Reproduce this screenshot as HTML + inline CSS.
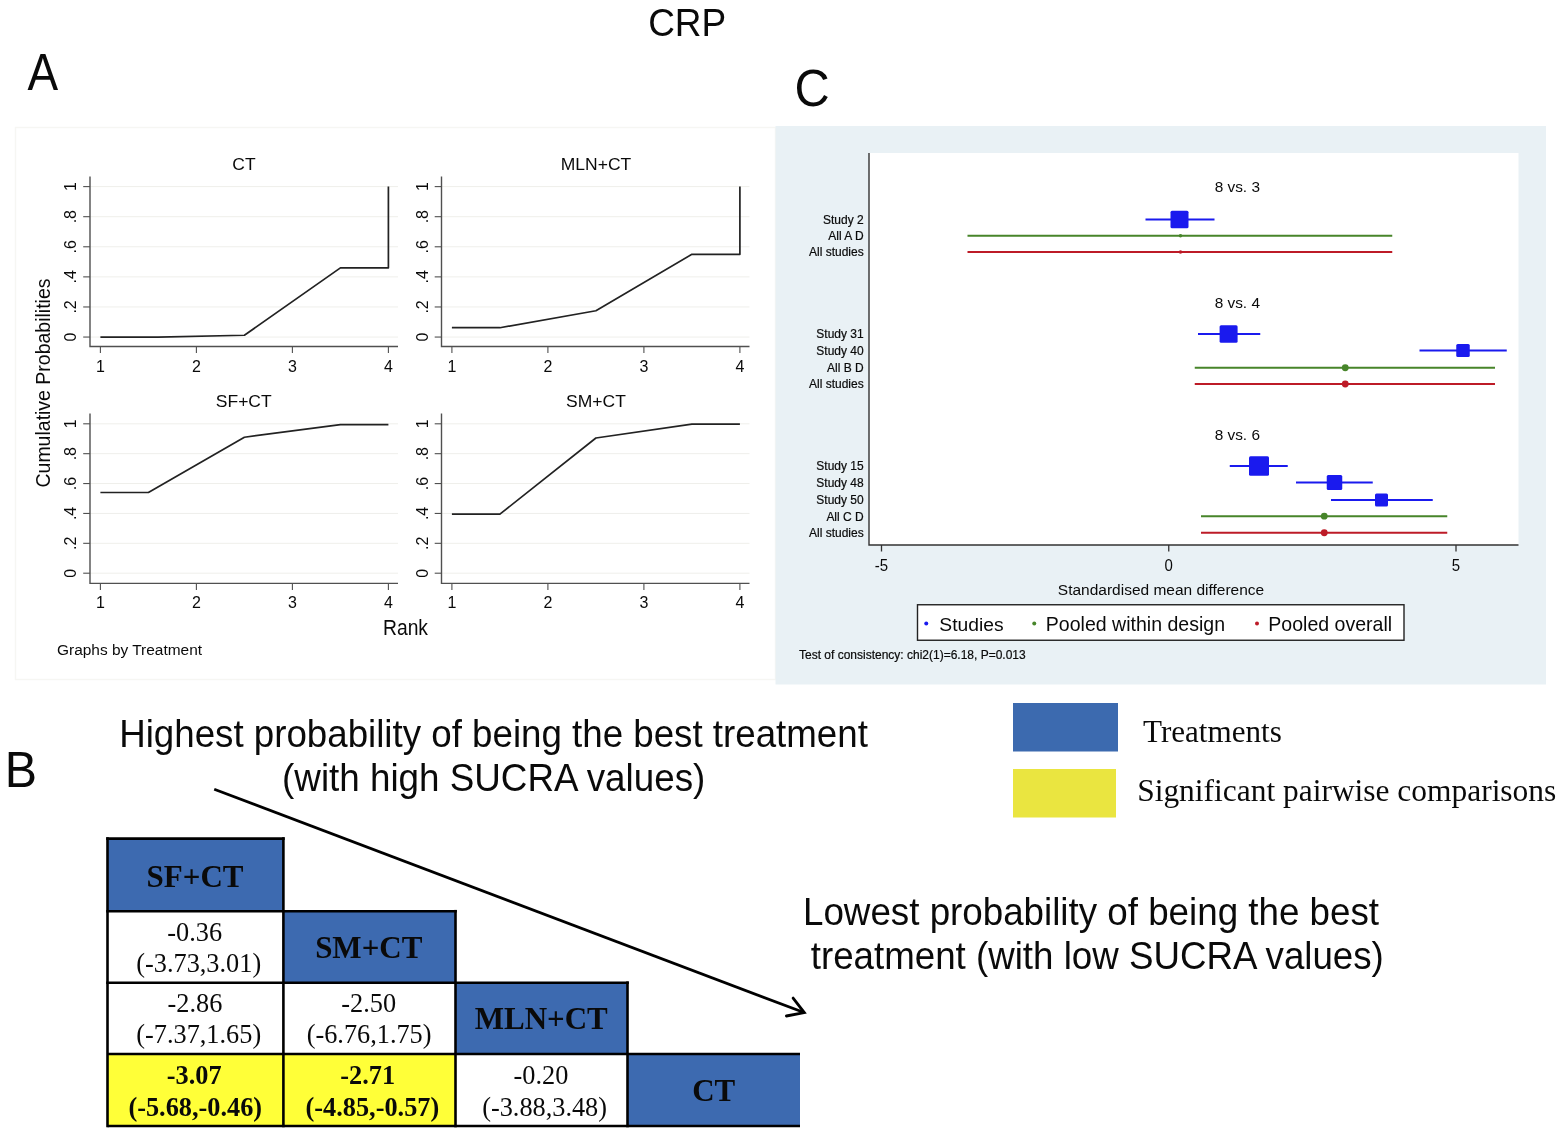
<!DOCTYPE html>
<html lang="en"><head><meta charset="utf-8"><title>CRP</title>
<style>html,body{margin:0;padding:0;background:#fff}body{width:1564px;height:1136px;overflow:hidden}svg{display:block}text{font-family:"Liberation Sans", Arial, Helvetica, sans-serif;fill:#0a0a0a}.serif{font-family:"Liberation Serif", "Times New Roman", Times, serif}</style>
</head><body>
<svg width="1564" height="1136" viewBox="0 0 1564 1136">
<rect x="0" y="0" width="1564" height="1136" fill="#ffffff"/>
<text transform="translate(648.15 35.70) scale(1.000 1.057)" font-size="37">CRP</text>
<text transform="translate(27.50 89.60) scale(1.000 1.114)" font-size="46">A</text>
<text transform="translate(794.60 105.60) scale(1.000 1.052)" font-size="48.7">C</text>
<text transform="translate(4.80 786.50) scale(1.030 1.080)" font-size="47">B</text>
<rect x="15.5" y="127.5" width="760" height="552" fill="#ffffff" stroke="#f6f6f3" stroke-width="1.4"/>
<line x1="90.00" y1="337.05" x2="398.00" y2="337.05" stroke="#efefeb" stroke-width="1"/>
<line x1="90.00" y1="306.96" x2="398.00" y2="306.96" stroke="#efefeb" stroke-width="1"/>
<line x1="90.00" y1="276.87" x2="398.00" y2="276.87" stroke="#efefeb" stroke-width="1"/>
<line x1="90.00" y1="246.78" x2="398.00" y2="246.78" stroke="#efefeb" stroke-width="1"/>
<line x1="90.00" y1="216.69" x2="398.00" y2="216.69" stroke="#efefeb" stroke-width="1"/>
<line x1="90.00" y1="186.60" x2="398.00" y2="186.60" stroke="#efefeb" stroke-width="1"/>
<path d="M90.00 176.60 V346.50 H398.00" fill="none" stroke="#505050" stroke-width="1.4"/>
<line x1="100.40" y1="346.50" x2="100.40" y2="353.00" stroke="#505050" stroke-width="1.1"/>
<text transform="translate(100.40 371.70) scale(1 1.040)" font-size="16" text-anchor="middle">1</text>
<line x1="196.40" y1="346.50" x2="196.40" y2="353.00" stroke="#505050" stroke-width="1.1"/>
<text transform="translate(196.40 371.70) scale(1 1.040)" font-size="16" text-anchor="middle">2</text>
<line x1="292.40" y1="346.50" x2="292.40" y2="353.00" stroke="#505050" stroke-width="1.1"/>
<text transform="translate(292.40 371.70) scale(1 1.040)" font-size="16" text-anchor="middle">3</text>
<line x1="388.40" y1="346.50" x2="388.40" y2="353.00" stroke="#505050" stroke-width="1.1"/>
<text transform="translate(388.40 371.70) scale(1 1.040)" font-size="16" text-anchor="middle">4</text>
<line x1="83.20" y1="337.05" x2="90.00" y2="337.05" stroke="#505050" stroke-width="1.1"/>
<text transform="translate(76.10 337.05) rotate(-90) scale(1 1.040)" font-size="16" text-anchor="middle">0</text>
<line x1="83.20" y1="306.96" x2="90.00" y2="306.96" stroke="#505050" stroke-width="1.1"/>
<text transform="translate(76.10 306.96) rotate(-90) scale(1 1.040)" font-size="16" text-anchor="middle">.2</text>
<line x1="83.20" y1="276.87" x2="90.00" y2="276.87" stroke="#505050" stroke-width="1.1"/>
<text transform="translate(76.10 276.87) rotate(-90) scale(1 1.040)" font-size="16" text-anchor="middle">.4</text>
<line x1="83.20" y1="246.78" x2="90.00" y2="246.78" stroke="#505050" stroke-width="1.1"/>
<text transform="translate(76.10 246.78) rotate(-90) scale(1 1.040)" font-size="16" text-anchor="middle">.6</text>
<line x1="83.20" y1="216.69" x2="90.00" y2="216.69" stroke="#505050" stroke-width="1.1"/>
<text transform="translate(76.10 216.69) rotate(-90) scale(1 1.040)" font-size="16" text-anchor="middle">.8</text>
<line x1="83.20" y1="186.60" x2="90.00" y2="186.60" stroke="#505050" stroke-width="1.1"/>
<text transform="translate(76.10 186.60) rotate(-90) scale(1 1.040)" font-size="16" text-anchor="middle">1</text>
<text transform="translate(244.00 170.30) scale(1 0.980)" font-size="17.5" text-anchor="middle">CT</text>
<path d="M100.40 337.05 L158.00 337.05 L244.40 335.24 L340.40 267.84 L388.40 267.84 L388.40 186.60" fill="none" stroke="#222" stroke-width="1.7" stroke-linejoin="round"/>
<line x1="441.50" y1="337.05" x2="749.50" y2="337.05" stroke="#efefeb" stroke-width="1"/>
<line x1="441.50" y1="306.96" x2="749.50" y2="306.96" stroke="#efefeb" stroke-width="1"/>
<line x1="441.50" y1="276.87" x2="749.50" y2="276.87" stroke="#efefeb" stroke-width="1"/>
<line x1="441.50" y1="246.78" x2="749.50" y2="246.78" stroke="#efefeb" stroke-width="1"/>
<line x1="441.50" y1="216.69" x2="749.50" y2="216.69" stroke="#efefeb" stroke-width="1"/>
<line x1="441.50" y1="186.60" x2="749.50" y2="186.60" stroke="#efefeb" stroke-width="1"/>
<path d="M441.50 176.60 V346.50 H749.50" fill="none" stroke="#505050" stroke-width="1.4"/>
<line x1="451.90" y1="346.50" x2="451.90" y2="353.00" stroke="#505050" stroke-width="1.1"/>
<text transform="translate(451.90 371.70) scale(1 1.040)" font-size="16" text-anchor="middle">1</text>
<line x1="547.90" y1="346.50" x2="547.90" y2="353.00" stroke="#505050" stroke-width="1.1"/>
<text transform="translate(547.90 371.70) scale(1 1.040)" font-size="16" text-anchor="middle">2</text>
<line x1="643.90" y1="346.50" x2="643.90" y2="353.00" stroke="#505050" stroke-width="1.1"/>
<text transform="translate(643.90 371.70) scale(1 1.040)" font-size="16" text-anchor="middle">3</text>
<line x1="739.90" y1="346.50" x2="739.90" y2="353.00" stroke="#505050" stroke-width="1.1"/>
<text transform="translate(739.90 371.70) scale(1 1.040)" font-size="16" text-anchor="middle">4</text>
<line x1="434.70" y1="337.05" x2="441.50" y2="337.05" stroke="#505050" stroke-width="1.1"/>
<text transform="translate(427.60 337.05) rotate(-90) scale(1 1.040)" font-size="16" text-anchor="middle">0</text>
<line x1="434.70" y1="306.96" x2="441.50" y2="306.96" stroke="#505050" stroke-width="1.1"/>
<text transform="translate(427.60 306.96) rotate(-90) scale(1 1.040)" font-size="16" text-anchor="middle">.2</text>
<line x1="434.70" y1="276.87" x2="441.50" y2="276.87" stroke="#505050" stroke-width="1.1"/>
<text transform="translate(427.60 276.87) rotate(-90) scale(1 1.040)" font-size="16" text-anchor="middle">.4</text>
<line x1="434.70" y1="246.78" x2="441.50" y2="246.78" stroke="#505050" stroke-width="1.1"/>
<text transform="translate(427.60 246.78) rotate(-90) scale(1 1.040)" font-size="16" text-anchor="middle">.6</text>
<line x1="434.70" y1="216.69" x2="441.50" y2="216.69" stroke="#505050" stroke-width="1.1"/>
<text transform="translate(427.60 216.69) rotate(-90) scale(1 1.040)" font-size="16" text-anchor="middle">.8</text>
<line x1="434.70" y1="186.60" x2="441.50" y2="186.60" stroke="#505050" stroke-width="1.1"/>
<text transform="translate(427.60 186.60) rotate(-90) scale(1 1.040)" font-size="16" text-anchor="middle">1</text>
<text transform="translate(596.00 170.30) scale(1 0.980)" font-size="17.5" text-anchor="middle">MLN+CT</text>
<path d="M451.90 327.72 L499.90 327.72 L595.90 310.72 L691.90 254.30 L739.90 254.30 L739.90 186.60" fill="none" stroke="#222" stroke-width="1.7" stroke-linejoin="round"/>
<line x1="90.00" y1="573.20" x2="398.00" y2="573.20" stroke="#efefeb" stroke-width="1"/>
<line x1="90.00" y1="543.32" x2="398.00" y2="543.32" stroke="#efefeb" stroke-width="1"/>
<line x1="90.00" y1="513.44" x2="398.00" y2="513.44" stroke="#efefeb" stroke-width="1"/>
<line x1="90.00" y1="483.56" x2="398.00" y2="483.56" stroke="#efefeb" stroke-width="1"/>
<line x1="90.00" y1="453.68" x2="398.00" y2="453.68" stroke="#efefeb" stroke-width="1"/>
<line x1="90.00" y1="423.80" x2="398.00" y2="423.80" stroke="#efefeb" stroke-width="1"/>
<path d="M90.00 413.50 V583.40 H398.00" fill="none" stroke="#505050" stroke-width="1.4"/>
<line x1="100.40" y1="583.40" x2="100.40" y2="589.90" stroke="#505050" stroke-width="1.1"/>
<text transform="translate(100.40 608.00) scale(1 1.040)" font-size="16" text-anchor="middle">1</text>
<line x1="196.40" y1="583.40" x2="196.40" y2="589.90" stroke="#505050" stroke-width="1.1"/>
<text transform="translate(196.40 608.00) scale(1 1.040)" font-size="16" text-anchor="middle">2</text>
<line x1="292.40" y1="583.40" x2="292.40" y2="589.90" stroke="#505050" stroke-width="1.1"/>
<text transform="translate(292.40 608.00) scale(1 1.040)" font-size="16" text-anchor="middle">3</text>
<line x1="388.40" y1="583.40" x2="388.40" y2="589.90" stroke="#505050" stroke-width="1.1"/>
<text transform="translate(388.40 608.00) scale(1 1.040)" font-size="16" text-anchor="middle">4</text>
<line x1="83.20" y1="573.20" x2="90.00" y2="573.20" stroke="#505050" stroke-width="1.1"/>
<text transform="translate(76.10 573.20) rotate(-90) scale(1 1.040)" font-size="16" text-anchor="middle">0</text>
<line x1="83.20" y1="543.32" x2="90.00" y2="543.32" stroke="#505050" stroke-width="1.1"/>
<text transform="translate(76.10 543.32) rotate(-90) scale(1 1.040)" font-size="16" text-anchor="middle">.2</text>
<line x1="83.20" y1="513.44" x2="90.00" y2="513.44" stroke="#505050" stroke-width="1.1"/>
<text transform="translate(76.10 513.44) rotate(-90) scale(1 1.040)" font-size="16" text-anchor="middle">.4</text>
<line x1="83.20" y1="483.56" x2="90.00" y2="483.56" stroke="#505050" stroke-width="1.1"/>
<text transform="translate(76.10 483.56) rotate(-90) scale(1 1.040)" font-size="16" text-anchor="middle">.6</text>
<line x1="83.20" y1="453.68" x2="90.00" y2="453.68" stroke="#505050" stroke-width="1.1"/>
<text transform="translate(76.10 453.68) rotate(-90) scale(1 1.040)" font-size="16" text-anchor="middle">.8</text>
<line x1="83.20" y1="423.80" x2="90.00" y2="423.80" stroke="#505050" stroke-width="1.1"/>
<text transform="translate(76.10 423.80) rotate(-90) scale(1 1.040)" font-size="16" text-anchor="middle">1</text>
<text transform="translate(243.75 406.60) scale(1 0.980)" font-size="17.5" text-anchor="middle">SF+CT</text>
<path d="M100.40 492.52 L148.40 492.52 L244.40 437.25 L340.40 424.55 L388.40 424.55" fill="none" stroke="#222" stroke-width="1.7" stroke-linejoin="round"/>
<line x1="441.50" y1="573.20" x2="749.50" y2="573.20" stroke="#efefeb" stroke-width="1"/>
<line x1="441.50" y1="543.32" x2="749.50" y2="543.32" stroke="#efefeb" stroke-width="1"/>
<line x1="441.50" y1="513.44" x2="749.50" y2="513.44" stroke="#efefeb" stroke-width="1"/>
<line x1="441.50" y1="483.56" x2="749.50" y2="483.56" stroke="#efefeb" stroke-width="1"/>
<line x1="441.50" y1="453.68" x2="749.50" y2="453.68" stroke="#efefeb" stroke-width="1"/>
<line x1="441.50" y1="423.80" x2="749.50" y2="423.80" stroke="#efefeb" stroke-width="1"/>
<path d="M441.50 413.50 V583.40 H749.50" fill="none" stroke="#505050" stroke-width="1.4"/>
<line x1="451.90" y1="583.40" x2="451.90" y2="589.90" stroke="#505050" stroke-width="1.1"/>
<text transform="translate(451.90 608.00) scale(1 1.040)" font-size="16" text-anchor="middle">1</text>
<line x1="547.90" y1="583.40" x2="547.90" y2="589.90" stroke="#505050" stroke-width="1.1"/>
<text transform="translate(547.90 608.00) scale(1 1.040)" font-size="16" text-anchor="middle">2</text>
<line x1="643.90" y1="583.40" x2="643.90" y2="589.90" stroke="#505050" stroke-width="1.1"/>
<text transform="translate(643.90 608.00) scale(1 1.040)" font-size="16" text-anchor="middle">3</text>
<line x1="739.90" y1="583.40" x2="739.90" y2="589.90" stroke="#505050" stroke-width="1.1"/>
<text transform="translate(739.90 608.00) scale(1 1.040)" font-size="16" text-anchor="middle">4</text>
<line x1="434.70" y1="573.20" x2="441.50" y2="573.20" stroke="#505050" stroke-width="1.1"/>
<text transform="translate(427.60 573.20) rotate(-90) scale(1 1.040)" font-size="16" text-anchor="middle">0</text>
<line x1="434.70" y1="543.32" x2="441.50" y2="543.32" stroke="#505050" stroke-width="1.1"/>
<text transform="translate(427.60 543.32) rotate(-90) scale(1 1.040)" font-size="16" text-anchor="middle">.2</text>
<line x1="434.70" y1="513.44" x2="441.50" y2="513.44" stroke="#505050" stroke-width="1.1"/>
<text transform="translate(427.60 513.44) rotate(-90) scale(1 1.040)" font-size="16" text-anchor="middle">.4</text>
<line x1="434.70" y1="483.56" x2="441.50" y2="483.56" stroke="#505050" stroke-width="1.1"/>
<text transform="translate(427.60 483.56) rotate(-90) scale(1 1.040)" font-size="16" text-anchor="middle">.6</text>
<line x1="434.70" y1="453.68" x2="441.50" y2="453.68" stroke="#505050" stroke-width="1.1"/>
<text transform="translate(427.60 453.68) rotate(-90) scale(1 1.040)" font-size="16" text-anchor="middle">.8</text>
<line x1="434.70" y1="423.80" x2="441.50" y2="423.80" stroke="#505050" stroke-width="1.1"/>
<text transform="translate(427.60 423.80) rotate(-90) scale(1 1.040)" font-size="16" text-anchor="middle">1</text>
<text transform="translate(596.00 406.60) scale(1 0.980)" font-size="17.5" text-anchor="middle">SM+CT</text>
<path d="M451.90 514.19 L499.90 514.19 L595.90 437.99 L691.90 424.10 L739.90 424.10" fill="none" stroke="#222" stroke-width="1.7" stroke-linejoin="round"/>
<text transform="translate(50.00 383.00) rotate(-90) scale(1 1.080)" font-size="19.5" text-anchor="middle">Cumulative Probabilities</text>
<text transform="translate(405.50 635.30) scale(1 1.100)" font-size="19.3" text-anchor="middle">Rank</text>
<text transform="translate(57.00 654.70) scale(1 1.000)" font-size="15.45">Graphs by Treatment</text>
<rect x="775.5" y="126" width="770.5" height="558.5" fill="#e9f1f5"/>
<rect x="869" y="153" width="649.5" height="392" fill="#ffffff"/>
<path d="M869 153 V545 H1518.5" fill="none" stroke="#333" stroke-width="1.4"/>
<line x1="881.50" y1="545" x2="881.50" y2="551.5" stroke="#333" stroke-width="1.3"/>
<text transform="translate(881.50 571.20) scale(1 1.040)" font-size="15" text-anchor="middle">-5</text>
<line x1="1168.75" y1="545" x2="1168.75" y2="551.5" stroke="#333" stroke-width="1.3"/>
<text transform="translate(1168.75 571.20) scale(1 1.040)" font-size="15" text-anchor="middle">0</text>
<line x1="1456.00" y1="545" x2="1456.00" y2="551.5" stroke="#333" stroke-width="1.3"/>
<text transform="translate(1456.00 571.20) scale(1 1.040)" font-size="15" text-anchor="middle">5</text>
<text transform="translate(1161.00 594.90) scale(1 0.980)" font-size="15.5" text-anchor="middle">Standardised mean difference</text>
<text transform="translate(1237.30 192.30) scale(1 0.990)" font-size="15.4" text-anchor="middle">8 vs. 3</text>
<text transform="translate(863.70 223.80) scale(1 1.040)" font-size="12" text-anchor="end" stroke="#0a0a0a" stroke-width="0.2">Study 2</text>
<line x1="1145.50" y1="219.50" x2="1214.50" y2="219.50" stroke="#1a1aee" stroke-width="2"/>
<rect x="1170.50" y="210.75" width="18.00" height="17.50" rx="1.5" fill="#1a1aee"/>
<text transform="translate(863.70 240.05) scale(1 1.040)" font-size="12" text-anchor="end" stroke="#0a0a0a" stroke-width="0.2">All A D</text>
<line x1="967.50" y1="235.75" x2="1392.25" y2="235.75" stroke="#47852a" stroke-width="2"/>
<circle cx="1180.50" cy="235.75" r="1.80" fill="#47852a"/>
<text transform="translate(863.70 256.30) scale(1 1.040)" font-size="12" text-anchor="end" stroke="#0a0a0a" stroke-width="0.2">All studies</text>
<line x1="967.50" y1="252.00" x2="1392.25" y2="252.00" stroke="#bd1b27" stroke-width="2"/>
<circle cx="1180.50" cy="252.00" r="1.80" fill="#bd1b27"/>
<text transform="translate(1237.30 307.80) scale(1 0.990)" font-size="15.4" text-anchor="middle">8 vs. 4</text>
<text transform="translate(863.70 338.30) scale(1 1.040)" font-size="12" text-anchor="end" stroke="#0a0a0a" stroke-width="0.2">Study 31</text>
<line x1="1198.00" y1="334.00" x2="1260.25" y2="334.00" stroke="#1a1aee" stroke-width="2"/>
<rect x="1219.60" y="325.25" width="18.00" height="17.50" rx="1.5" fill="#1a1aee"/>
<text transform="translate(863.70 354.70) scale(1 1.040)" font-size="12" text-anchor="end" stroke="#0a0a0a" stroke-width="0.2">Study 40</text>
<line x1="1419.50" y1="350.40" x2="1506.75" y2="350.40" stroke="#1a1aee" stroke-width="2"/>
<rect x="1456.25" y="343.90" width="13.50" height="13.00" rx="1.5" fill="#1a1aee"/>
<text transform="translate(863.70 372.05) scale(1 1.040)" font-size="12" text-anchor="end" stroke="#0a0a0a" stroke-width="0.2">All B D</text>
<line x1="1194.75" y1="367.75" x2="1495.00" y2="367.75" stroke="#47852a" stroke-width="2"/>
<circle cx="1345.25" cy="367.75" r="3.40" fill="#47852a"/>
<text transform="translate(863.70 388.30) scale(1 1.040)" font-size="12" text-anchor="end" stroke="#0a0a0a" stroke-width="0.2">All studies</text>
<line x1="1194.75" y1="384.00" x2="1495.00" y2="384.00" stroke="#bd1b27" stroke-width="2"/>
<circle cx="1345.25" cy="384.00" r="3.40" fill="#bd1b27"/>
<text transform="translate(1237.30 440.05) scale(1 0.990)" font-size="15.4" text-anchor="middle">8 vs. 6</text>
<text transform="translate(863.70 470.30) scale(1 1.040)" font-size="12" text-anchor="end" stroke="#0a0a0a" stroke-width="0.2">Study 15</text>
<line x1="1229.75" y1="466.00" x2="1287.75" y2="466.00" stroke="#1a1aee" stroke-width="2"/>
<rect x="1249.00" y="456.25" width="20.00" height="19.50" rx="1.5" fill="#1a1aee"/>
<text transform="translate(863.70 486.80) scale(1 1.040)" font-size="12" text-anchor="end" stroke="#0a0a0a" stroke-width="0.2">Study 48</text>
<line x1="1296.00" y1="482.50" x2="1372.75" y2="482.50" stroke="#1a1aee" stroke-width="2"/>
<rect x="1326.75" y="475.00" width="15.50" height="15.00" rx="1.5" fill="#1a1aee"/>
<text transform="translate(863.70 504.30) scale(1 1.040)" font-size="12" text-anchor="end" stroke="#0a0a0a" stroke-width="0.2">Study 50</text>
<line x1="1331.00" y1="500.00" x2="1432.75" y2="500.00" stroke="#1a1aee" stroke-width="2"/>
<rect x="1375.00" y="493.50" width="13.00" height="13.00" rx="1.5" fill="#1a1aee"/>
<text transform="translate(863.70 520.50) scale(1 1.040)" font-size="12" text-anchor="end" stroke="#0a0a0a" stroke-width="0.2">All C D</text>
<line x1="1201.00" y1="516.20" x2="1447.25" y2="516.20" stroke="#47852a" stroke-width="2"/>
<circle cx="1324.25" cy="516.20" r="3.40" fill="#47852a"/>
<text transform="translate(863.70 537.05) scale(1 1.040)" font-size="12" text-anchor="end" stroke="#0a0a0a" stroke-width="0.2">All studies</text>
<line x1="1201.00" y1="532.75" x2="1447.25" y2="532.75" stroke="#bd1b27" stroke-width="2"/>
<circle cx="1324.25" cy="532.75" r="3.40" fill="#bd1b27"/>
<rect x="917.5" y="604.75" width="486.5" height="35.5" fill="#ffffff" stroke="#222" stroke-width="1.4"/>
<circle cx="926.25" cy="623.5" r="2" fill="#1a1aee"/>
<text transform="translate(939.30 630.50) scale(1 0.990)" font-size="19.3">Studies</text>
<circle cx="1034.25" cy="623.5" r="2" fill="#47852a"/>
<text transform="translate(1045.80 630.50) scale(1 0.990)" font-size="19.55">Pooled within design</text>
<circle cx="1257" cy="623.5" r="2" fill="#bd1b27"/>
<text transform="translate(1268.30 630.50) scale(1 0.990)" font-size="19.55">Pooled overall</text>
<text transform="translate(799.00 658.90) scale(1 1.040)" font-size="12" stroke="#0a0a0a" stroke-width="0.2">Test of consistency: chi2(1)=6.18, P=0.013</text>
<rect x="1013" y="703" width="105" height="48.5" fill="#3c6aaf"/>
<rect x="1013" y="769" width="103" height="48.5" fill="#eae540"/>
<text class="serif" x="1143" y="741.5" font-size="31.1">Treatments</text>
<text class="serif" x="1137.2" y="801" font-size="31.45">Significant pairwise comparisons</text>
<text transform="translate(493.50 746.80) scale(1 1.040)" font-size="36.7" text-anchor="middle">Highest probability of being the best treatment</text>
<text transform="translate(493.70 791.00) scale(1 1.040)" font-size="36.8" text-anchor="middle">(with high SUCRA values)</text>
<text transform="translate(1091.00 924.50) scale(1 1.040)" font-size="36.75" text-anchor="middle">Lowest probability of being the best</text>
<text transform="translate(1097.30 968.50) scale(1 1.040)" font-size="36.7" text-anchor="middle">treatment (with low SUCRA values)</text>
<path d="M214.25 789.25 L804 1012.55" fill="none" stroke="#000" stroke-width="2.8"/>
<path d="M793.1 998.1 L804.3 1012.6 L786.4 1016" fill="none" stroke="#000" stroke-width="2.8" stroke-linejoin="miter" stroke-linecap="round"/>
<rect x="107.50" y="838.60" width="175.90" height="72.60" fill="#3d6ab0"/>
<rect x="283.40" y="911.20" width="172.10" height="71.50" fill="#3d6ab0"/>
<rect x="455.50" y="982.70" width="172.00" height="71.30" fill="#3d6ab0"/>
<rect x="627.50" y="1054.00" width="172.50" height="72.00" fill="#3d6ab0"/>
<rect x="107.50" y="911.20" width="175.90" height="71.50" fill="#fff"/>
<rect x="107.50" y="982.70" width="175.90" height="71.30" fill="#fff"/>
<rect x="283.40" y="982.70" width="172.10" height="71.30" fill="#fff"/>
<rect x="455.50" y="1054.00" width="172.00" height="72.00" fill="#fff"/>
<rect x="107.50" y="1054.00" width="175.90" height="72.00" fill="#ffff38"/>
<rect x="283.40" y="1054.00" width="172.10" height="72.00" fill="#ffff38"/>
<path d="M107.50 838.60 V1126.00" stroke="#000" stroke-width="2.6" fill="none" stroke-linecap="square"/>
<path d="M283.40 838.60 V1126.00" stroke="#000" stroke-width="2.6" fill="none" stroke-linecap="square"/>
<path d="M455.50 911.20 V1126.00" stroke="#000" stroke-width="2.6" fill="none" stroke-linecap="square"/>
<path d="M627.50 982.70 V1126.00" stroke="#000" stroke-width="2.6" fill="none" stroke-linecap="square"/>
<path d="M107.50 838.60 H283.40" stroke="#000" stroke-width="2.6" fill="none" stroke-linecap="square"/>
<path d="M107.50 911.20 H455.50" stroke="#000" stroke-width="2.6" fill="none" stroke-linecap="square"/>
<path d="M107.50 982.70 H627.50" stroke="#000" stroke-width="2.6" fill="none" stroke-linecap="square"/>
<path d="M107.50 1054.00 H800.00" stroke="#000" stroke-width="2.6" fill="none"/>
<path d="M107.50 1126.00 H800.00" stroke="#000" stroke-width="2.6" fill="none"/>
<text class="serif" x="195.00" y="886.80" font-size="31" font-weight="bold" text-anchor="middle">SF+CT</text>
<text class="serif" x="368.75" y="958.05" font-size="31" font-weight="bold" text-anchor="middle">SM+CT</text>
<text class="serif" x="541.25" y="1029.30" font-size="31" font-weight="bold" text-anchor="middle">MLN+CT</text>
<text class="serif" x="713.75" y="1101.05" font-size="31" font-weight="bold" text-anchor="middle">CT</text>
<text class="serif" x="194.70" y="940.50" font-size="26.3" text-anchor="middle">-0.36</text>
<text class="serif" x="198.70" y="971.70" font-size="26.3" text-anchor="middle">(-3.73,3.01)</text>
<text class="serif" x="195.00" y="1011.50" font-size="26.3" text-anchor="middle">-2.86</text>
<text class="serif" x="198.70" y="1042.80" font-size="26.3" text-anchor="middle">(-7.37,1.65)</text>
<text class="serif" x="368.75" y="1011.50" font-size="26.3" text-anchor="middle">-2.50</text>
<text class="serif" x="369.10" y="1042.80" font-size="26.3" text-anchor="middle">(-6.76,1.75)</text>
<text class="serif" x="194.25" y="1083.90" font-size="26.3" font-weight="bold" text-anchor="middle">-3.07</text>
<text class="serif" x="195.25" y="1116.00" font-size="26.3" font-weight="bold" text-anchor="middle">(-5.68,-0.46)</text>
<text class="serif" x="367.75" y="1083.90" font-size="26.3" font-weight="bold" text-anchor="middle">-2.71</text>
<text class="serif" x="372.40" y="1116.00" font-size="26.3" font-weight="bold" text-anchor="middle">(-4.85,-0.57)</text>
<text class="serif" x="540.90" y="1083.90" font-size="26.3" text-anchor="middle">-0.20</text>
<text class="serif" x="544.60" y="1116.00" font-size="26.3" text-anchor="middle">(-3.88,3.48)</text>
</svg>
</body></html>
